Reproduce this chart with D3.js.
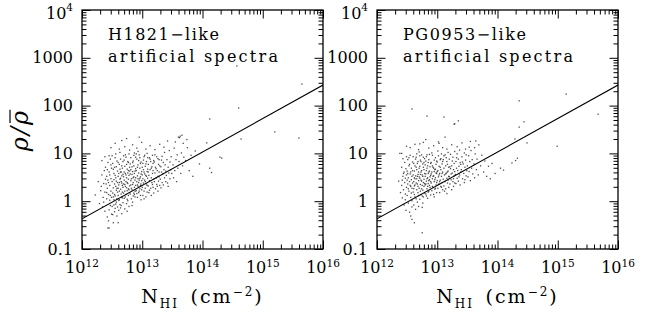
<!DOCTYPE html>
<html lang="en">
<head>
<meta charset="UTF-8" />
<title>Overdensity vs HI column density</title>
<style>
  body { margin: 0; background: #fff; }
  svg { display: block; font-family: "DejaVu Serif", serif; }
  .frame { fill: none; stroke: #000; stroke-width: 1.3px; }
  .tick line { stroke: #000; stroke-width: 1px; }
  .domain { display: none; }
  .fit { fill: none; stroke: #000; stroke-width: 1.1px; }
  .pt { fill: #000; fill-opacity: 0.7; }
</style>
</head>
<body>
<svg width="665" height="320"></svg>
<script src="https://d3js.org/d3.v7.min.js"></script>
<script>
// panel captions
const panelNames = ["H1821\u2212like", "PG0953\u2212like"];
const panelSub = "artificial spectra";

// axis ticks
const xMajor = [1e12, 1e13, 1e14, 1e15, 1e16];
const xTickExp = ["12", "13", "14", "15", "16"];
const yMajor = [0.1, 1, 10, 100, 1000, 1e4];
const yTickText = [["0.1", ""], ["1", ""], ["10", ""], ["100", ""], ["1000", ""], ["10", "4"]];

// fitted relation, [log10 N_HI, log10 rho/rhobar]
const fitLine = [[12, -0.37], [16, 2.43]];

// points, [log10 N_HI, log10 rho/rhobar]
const h1821 = [
[12.22,0.13],[12.27,0.41],[12.29,-0.05],
[12.31,0.22],[12.33,0.55],[12.34,-0.12],[12.35,0.08],[12.36,0.37],[12.37,0.64],[12.38,-0.21],[12.38,0.19],[12.39,0.46],[12.32,0.31],[12.36,-0.02],[12.39,0.71],
[12.41,0.05],[12.41,0.52],[12.42,-0.33],[12.42,0.27],[12.43,-0.56],[12.43,0.81],[12.44,0.14],[12.44,0.39],[12.45,-0.18],[12.45,0.61],[12.46,0.02],[12.46,0.33],[12.47,0.88],[12.47,-0.09],[12.48,0.21],[12.48,0.47],[12.49,-0.27],[12.49,0.69],[12.45,0.95],[12.43,0.44],[12.47,0.12],[12.41,0.18],[12.44,-0.41],[12.48,0.76],[12.46,0.55],[12.42,0.66],[12.49,0.08],[12.40,0.36],
[12.50,-0.11],[12.50,0.41],[12.51,0.17],[12.51,0.79],[12.52,-0.45],[12.52,0.28],[12.53,0.03],[12.53,0.58],[12.54,-0.22],[12.54,0.36],[12.55,0.91],[12.55,0.11],[12.56,-0.06],[12.56,0.49],[12.57,0.23],[12.57,0.72],[12.58,-0.31],[12.58,0.05],[12.59,0.39],[12.59,0.63],[12.50,0.95],[12.52,0.67],[12.54,0.14],[12.55,-0.15],[12.56,0.31],[12.57,-0.02],[12.58,0.84],[12.59,0.19],[12.51,-0.28],[12.53,0.45],[12.55,0.54],[12.57,0.42],[12.52,0.09],[12.58,0.27],[12.54,0.71],[12.56,0.99],[12.59,-0.12],[12.53,-0.08],
[12.60,0.12],[12.60,0.52],[12.61,-0.19],[12.61,0.34],[12.62,0.77],[12.62,0.03],[12.63,0.46],[12.63,-0.07],[12.64,0.25],[12.64,0.88],[12.65,0.15],[12.65,0.61],[12.66,-0.26],[12.66,0.38],[12.67,0.07],[12.67,0.69],[12.68,0.29],[12.68,-0.03],[12.69,0.51],[12.69,0.95],[12.60,0.81],[12.61,0.58],[12.62,0.21],[12.63,0.67],[12.64,-0.14],[12.65,0.41],[12.66,0.74],[12.67,0.19],[12.68,0.56],[12.69,0.17],[12.62,0.39],[12.64,0.48],[12.66,0.09],[12.68,0.83],[12.61,0.02],[12.63,1.02],[12.65,-0.09],[12.67,0.33],[12.69,0.36],[12.60,0.27],[12.64,0.61],[12.66,0.53],
[12.70,0.06],[12.70,0.44],[12.71,0.73],[12.71,-0.16],[12.72,0.31],[12.72,0.58],[12.73,0.14],[12.73,0.92],[12.74,-0.05],[12.74,0.49],[12.75,0.22],[12.75,0.67],[12.76,0.37],[12.76,0.01],[12.77,0.81],[12.77,0.26],[12.78,0.54],[12.78,-0.11],[12.79,0.18],[12.79,0.63],[12.70,0.86],[12.71,0.35],[12.72,0.09],[12.73,0.41],[12.74,0.77],[12.75,0.04],[12.76,0.59],[12.77,0.46],[12.78,0.99],[12.79,0.32],[12.71,0.21],[12.73,0.55],[12.75,0.39],[12.77,0.12],[12.79,0.71],[12.72,0.97],[12.74,0.28],[12.76,0.83],[12.78,0.24],[12.70,0.61],[12.75,-0.21],[12.77,0.64],
[12.80,0.15],[12.80,0.57],[12.81,0.34],[12.81,0.91],[12.82,0.05],[12.82,0.47],[12.83,0.72],[12.83,0.24],[12.84,-0.02],[12.84,0.62],[12.85,0.39],[12.85,0.84],[12.86,0.17],[12.86,0.51],[12.87,0.29],[12.87,1.01],[12.88,0.44],[12.88,0.09],[12.89,0.68],[12.89,0.33],[12.80,0.78],[12.82,0.27],[12.83,0.56],[12.85,0.11],[12.86,0.74],[12.87,0.58],[12.88,0.21],[12.89,0.92],[12.81,0.43],[12.84,0.35],[12.86,0.96],[12.88,0.63],[12.83,-0.09],[12.85,0.49],[12.87,0.14],[12.81,0.66],[12.84,0.81],[12.89,0.49],
[12.90,0.22],[12.90,0.64],[12.91,0.41],[12.91,0.88],[12.92,0.08],[12.92,0.53],[12.93,0.31],[12.93,0.76],[12.94,0.18],[12.94,0.59],[12.95,0.44],[12.95,0.97],[12.96,0.26],[12.96,0.69],[12.97,0.12],[12.97,0.51],[12.98,0.36],[12.98,0.82],[12.99,0.24],[12.99,0.62],[12.90,0.99],[12.91,0.16],[12.92,0.71],[12.93,0.47],[12.94,0.85],[12.95,0.21],[12.96,0.48],[12.97,0.79],[12.98,0.03],[12.99,0.43],[12.92,0.34],[12.94,0.39],[12.96,0.91],[12.98,0.57],[12.93,1.04],[12.97,0.33],
[13.00,0.29],[13.00,0.71],[13.01,0.47],[13.01,0.12],[13.02,0.86],[13.02,0.38],[13.03,0.61],[13.03,0.21],[13.04,0.96],[13.04,0.44],[13.05,0.27],[13.05,0.73],[13.06,0.54],[13.06,0.09],[13.07,0.83],[13.07,0.36],[13.08,0.62],[13.08,0.19],[13.09,0.48],[13.09,0.91],[13.00,0.55],[13.02,0.66],[13.03,0.93],[13.05,0.41],[13.06,0.78],[13.08,0.33],[13.09,0.67],[13.01,0.79],[13.04,0.57],[13.07,0.52],[13.03,0.05],[13.08,1.00],
[13.10,0.32],[13.10,0.77],[13.11,0.54],[13.11,0.18],[13.12,0.91],[13.12,0.43],[13.13,0.66],[13.14,0.27],[13.14,0.83],[13.15,0.49],[13.15,0.12],[13.16,0.72],[13.16,0.39],[13.17,0.58],[13.17,0.96],[13.18,0.29],[13.18,0.64],[13.19,0.46],[13.19,0.85],[13.10,0.61],[13.12,0.23],[13.13,0.88],[13.15,0.69],[13.17,0.35],[13.18,0.79],[13.19,0.17],
[13.20,0.41],[13.20,0.82],[13.21,0.59],[13.22,0.26],[13.22,0.71],[13.23,0.48],[13.24,0.93],[13.24,0.35],[13.25,0.64],[13.26,0.52],[13.26,0.21],[13.27,0.77],[13.27,0.42],[13.28,0.87],[13.28,0.61],[13.29,0.33],[13.29,0.74],[13.21,0.97],[13.23,0.68],[13.25,0.31],[13.26,0.89],[13.28,0.51],
[13.30,0.46],[13.31,0.72],[13.31,0.28],[13.32,0.61],[13.33,0.94],[13.33,0.39],[13.34,0.57],[13.35,0.81],[13.35,0.34],[13.36,0.66],[13.37,0.49],[13.37,1.02],[13.38,0.76],[13.39,0.41],[13.39,0.63],[13.32,0.86],
[13.40,0.54],[13.41,0.87],[13.42,0.38],[13.43,0.71],[13.44,0.59],[13.45,1.06],[13.46,0.47],[13.46,0.82],[13.47,0.66],[13.48,0.93],[13.49,0.58],[13.43,0.31],
[13.51,0.76],[13.52,0.49],[13.53,1.11],[13.54,0.64],[13.56,0.87],[13.57,0.41],[13.58,0.97],[13.59,0.69],[13.55,1.24],
[13.61,0.83],[13.62,1.33],[13.64,0.58],[13.65,1.01],[13.67,0.74],[13.68,1.21],[13.69,0.92],[13.66,1.38],[13.74,1.29],
[13.72,0.85],[13.75,1.12],[13.78,0.64],[13.81,0.96],[13.84,0.52],[13.88,1.05],[13.95,0.78],
[12.48,1.12],[12.55,1.21],[12.62,1.09],[12.66,1.27],[12.71,1.14],[12.79,1.07],[12.84,1.18],[12.91,1.11],[12.99,1.23],[13.06,1.09],[13.13,1.16],[13.21,1.08],[13.29,1.19],[13.36,1.13],[12.74,1.31],[12.95,1.34],[13.42,1.26],[12.38,0.93],[12.33,0.85],
[14.07,1.22],[14.12,0.69],[14.15,0.60],[14.32,0.90],[14.12,1.72],[14.60,1.95],[14.64,1.30],[15.20,1.45],[15.60,1.32],[15.65,2.45],[14.57,2.83],[13.63,1.36],[13.60,1.34],[14.29,0.92],[12.60,-0.45],[12.45,-0.56]
];

const pg0953 = [
[12.38,1.00],[12.36,0.42],[12.39,0.18],
[12.41,0.33],[12.41,0.71],[12.42,0.07],[12.43,0.52],[12.43,0.89],[12.44,0.24],[12.45,-0.08],[12.45,0.61],[12.46,0.39],[12.46,0.81],[12.47,0.15],[12.47,0.48],[12.48,-0.19],[12.48,0.68],[12.49,0.29],[12.49,0.93],[12.42,0.44],[12.44,0.58],[12.47,0.03],[12.49,0.55],
[12.50,0.12],[12.50,0.63],[12.51,0.36],[12.51,0.87],[12.52,-0.04],[12.52,0.49],[12.53,0.21],[12.53,0.74],[12.54,0.41],[12.54,-0.23],[12.55,0.57],[12.55,0.96],[12.56,0.08],[12.56,0.31],[12.57,0.69],[12.57,0.17],[12.58,0.52],[12.58,-0.12],[12.59,0.38],[12.59,0.82],[12.50,0.44],[12.52,0.26],[12.53,0.91],[12.55,0.33],[12.56,0.61],[12.57,0.45],[12.58,0.01],[12.59,0.64],[12.51,0.58],[12.54,0.77],[12.56,-0.31],[12.58,0.27],
[12.60,0.19],[12.60,0.55],[12.61,-0.08],[12.61,0.79],[12.62,0.32],[12.62,0.63],[12.63,0.09],[12.63,0.47],[12.64,0.88],[12.64,-0.17],[12.65,0.38],[12.65,0.71],[12.66,0.24],[12.66,0.99],[12.67,0.52],[12.67,-0.02],[12.68,0.31],[12.68,0.83],[12.69,0.12],[12.69,0.61],[12.60,0.93],[12.61,0.41],[12.62,0.14],[12.63,0.74],[12.64,0.53],[12.65,0.05],[12.66,0.66],[12.67,0.36],[12.68,0.56],[12.69,0.43],[12.61,0.26],[12.63,0.34],[12.65,0.92],[12.67,0.79],[12.69,-0.11],[12.62,0.49],[12.66,0.47],[12.68,0.18],
[12.70,0.27],[12.70,0.69],[12.71,0.04],[12.71,0.48],[12.72,0.86],[12.72,0.35],[12.73,0.14],[12.73,0.61],[12.74,0.97],[12.74,0.42],[12.75,-0.13],[12.75,0.55],[12.76,0.23],[12.76,0.78],[12.77,0.39],[12.77,0.09],[12.78,0.66],[12.78,0.31],[12.79,0.89],[12.79,0.17],[12.70,0.51],[12.71,0.73],[12.72,0.21],[12.73,0.44],[12.74,0.64],[12.75,0.33],[12.76,0.52],[12.77,0.92],[12.78,0.46],[12.79,0.58],[12.71,0.95],[12.73,0.83],[12.75,0.11],[12.77,0.71],[12.79,0.37],[12.72,0.56],[12.74,0.26],[12.76,-0.04],[12.78,0.81],[12.70,1.03],
[12.80,0.34],[12.80,0.76],[12.81,0.15],[12.81,0.57],[12.82,0.93],[12.82,0.42],[12.83,0.26],[12.83,0.69],[12.84,0.49],[12.84,0.06],[12.85,0.81],[12.85,0.37],[12.86,0.61],[12.86,0.21],[12.87,0.98],[12.87,0.45],[12.88,0.72],[12.88,0.29],[12.89,0.54],[12.89,0.13],[12.80,0.52],[12.81,0.84],[12.82,0.11],[12.83,0.47],[12.84,0.74],[12.85,0.58],[12.86,0.87],[12.87,0.33],[12.88,0.51],[12.89,0.79],[12.81,0.36],[12.83,0.97],[12.85,0.19],[12.87,0.63],[12.89,0.41],[12.82,0.64],[12.84,0.31],[12.86,0.43],
[12.90,0.38],[12.90,0.81],[12.91,0.22],[12.91,0.61],[12.92,0.47],[12.92,0.96],[12.93,0.29],[12.93,0.71],[12.94,0.53],[12.94,0.14],[12.95,0.86],[12.95,0.41],[12.96,0.66],[12.96,0.25],[12.97,0.91],[12.97,0.49],[12.98,0.34],[12.98,0.77],[12.99,0.58],[12.99,0.18],[12.90,0.57],[12.91,1.01],[12.92,0.31],[12.93,0.52],[12.94,0.69],[12.95,0.62],[12.96,0.45],[12.97,0.27],[12.98,0.59],[12.99,0.84],[12.92,0.74],[12.95,0.09],[12.97,0.67],[12.99,0.39],
[13.00,0.43],[13.00,0.82],[13.01,0.27],[13.01,0.64],[13.02,0.51],[13.02,0.95],[13.03,0.36],[13.03,0.73],[13.04,0.18],[13.04,0.58],[13.05,0.87],[13.05,0.44],[13.06,0.66],[13.06,0.31],[13.07,0.99],[13.07,0.52],[13.08,0.39],[13.08,0.78],[13.09,0.61],[13.09,0.24],[13.00,0.62],[13.02,0.35],[13.03,0.55],[13.05,0.71],[13.06,0.89],[13.07,0.29],[13.08,0.58],[13.09,0.83],[13.01,1.05],[13.04,0.41],
[13.10,0.46],[13.10,0.87],[13.11,0.32],[13.11,0.69],[13.12,0.55],[13.13,0.97],[13.13,0.41],[13.14,0.74],[13.14,0.26],[13.15,0.59],[13.15,0.91],[13.16,0.48],[13.16,0.16],[13.17,0.77],[13.17,0.38],[13.18,0.63],[13.18,1.02],[13.19,0.52],[13.19,0.29],[13.11,0.95],[13.12,0.21],[13.14,0.57],[13.16,0.83],[13.17,0.61],[13.18,0.44],[13.19,0.71],
[13.20,0.51],[13.20,0.88],[13.21,0.36],[13.22,0.68],[13.22,0.98],[13.23,0.45],[13.24,0.74],[13.24,0.24],[13.25,0.59],[13.26,0.92],[13.26,0.41],[13.27,0.66],[13.27,0.31],[13.28,0.79],[13.28,0.53],[13.29,1.04],[13.29,0.62],[13.21,0.72],[13.23,0.57],[13.25,0.84],[13.27,0.47],[13.29,0.38],
[13.30,0.56],[13.31,0.83],[13.31,0.37],[13.32,0.69],[13.33,0.99],[13.33,0.48],[13.34,0.64],[13.35,0.88],[13.35,0.42],[13.36,0.73],[13.37,0.55],[13.37,1.07],[13.38,0.81],[13.38,0.34],[13.39,0.61],[13.32,0.91],[13.36,0.51],[13.39,0.77],
[13.40,0.66],[13.41,0.93],[13.42,0.47],[13.43,0.78],[13.44,0.58],[13.45,1.01],[13.45,0.39],[13.46,0.71],[13.47,0.86],[13.48,0.53],[13.48,0.97],[13.49,0.64],[13.42,0.82],[13.46,0.45],
[13.50,0.74],[13.51,0.51],[13.52,0.95],[13.53,0.62],[13.54,0.83],[13.55,0.43],[13.56,1.06],[13.57,0.69],[13.58,0.87],[13.59,0.57],[13.53,1.13],
[13.61,0.78],[13.62,0.49],[13.63,0.99],[13.65,0.66],[13.66,0.88],[13.68,0.55],[13.69,1.18],[13.64,1.26],
[13.72,0.74],[13.74,0.96],[13.77,0.61],[13.79,0.84],[13.82,0.52],[13.85,0.73],[13.88,0.47],[13.91,0.79],[13.96,0.58],[14.05,0.69],
[12.55,1.12],[12.63,1.19],[12.69,1.08],[12.77,1.23],[12.86,1.11],[12.94,1.16],[13.03,1.21],[13.09,1.12],[13.16,1.09],[13.24,1.18],[13.33,1.14],[13.41,1.22],[13.47,1.09],[12.49,1.15],[12.81,1.29],[13.55,1.25],[13.62,1.12],
[12.41,1.00],[12.58,1.93],[12.71,1.20],[12.83,1.78],[13.02,1.24],[13.11,1.76],[13.13,1.34],[13.28,1.61],[13.29,1.62],[13.35,1.68],[14.36,2.10],[14.36,1.55],[14.44,1.66],[14.49,1.22],[14.29,1.30],[14.24,0.80],[14.30,0.85],[14.10,0.65],[14.33,0.90],[14.99,1.15],[15.14,2.24],[15.67,1.82],[12.75,-0.66],[12.62,-0.45],[12.58,-0.38]
];

const panels = [
  { name: panelNames[0], points: h1821, x0: 82, x1: 323, capLen: 111 },
  { name: panelNames[1], points: pg0953, x0: 377, x1: 618, capLen: 123 }
];
const yTop = 10, yBottom = 249;

const svg = d3.select("svg");

panels.forEach((p, pi) => {
  const x = d3.scaleLog().domain([1e12, 1e16]).range([p.x0, p.x1]);
  const y = d3.scaleLog().domain([0.1, 1e4]).range([yBottom, yTop]);
  const xMinor = x.ticks().filter((v) => !xMajor.some((m) => Math.abs(v / m - 1) < 1e-6));
  const yMinor = y.ticks().filter((v) => !yMajor.some((m) => Math.abs(v / m - 1) < 1e-6));

  const g = svg.append("g");

  const clipId = "clip" + pi;
  g.append("clipPath").attr("id", clipId)
    .append("rect")
    .attr("x", p.x0).attr("y", yTop)
    .attr("width", p.x1 - p.x0).attr("height", yBottom - yTop);

  // scatter
  g.append("g")
    .attr("clip-path", `url(#${clipId})`)
    .selectAll("rect")
    .data(p.points)
    .join("rect")
    .attr("class", "pt")
    .attr("x", (d) => x(Math.pow(10, d[0])) - 0.65)
    .attr("y", (d) => y(Math.pow(10, d[1])) - 0.65)
    .attr("width", 1.3)
    .attr("height", 1.3);

  // fitted line
  g.append("path")
    .attr("class", "fit")
    .attr("clip-path", `url(#${clipId})`)
    .attr("d", d3.line()
      .x((d) => x(Math.pow(10, d[0])))
      .y((d) => y(Math.pow(10, d[1])))(fitLine));

  // ticks, all pointing inward
  const addAxis = (axisFn, scale, vals, len, transform) => {
    g.append("g")
      .attr("transform", transform)
      .call(axisFn(scale).tickValues(vals).tickSize(-len).tickFormat(""));
  };
  [[xMajor, 8.5], [xMinor, 4.5]].forEach(([vals, len]) => {
    addAxis(d3.axisBottom, x, vals, len, `translate(0,${yBottom})`);
    addAxis(d3.axisTop, x, vals, len, `translate(0,${yTop})`);
  });
  [[yMajor, 8.5], [yMinor, 4.5]].forEach(([vals, len]) => {
    addAxis(d3.axisLeft, y, vals, len, `translate(${p.x0},0)`);
    addAxis(d3.axisRight, y, vals, len, `translate(${p.x1},0)`);
  });

  g.append("rect")
    .attr("class", "frame")
    .attr("x", p.x0).attr("y", yTop)
    .attr("width", p.x1 - p.x0).attr("height", yBottom - yTop);

  // x tick labels
  xMajor.forEach((v, i) => {
    const t = g.append("text")
      .attr("x", x(v))
      .attr("y", 273)
      .attr("text-anchor", "middle")
      .attr("font-size", 16);
    t.append("tspan").text("10");
    t.append("tspan").attr("font-size", 10.5).attr("dy", -6).text(xTickExp[i]);
  });

  // y tick labels
  yMajor.forEach((v, i) => {
    const [base, ex] = yTickText[i];
    const t = g.append("text")
      .attr("x", p.x0 - 9)
      .attr("y", y(v) + (ex ? 9 : 5.5))
      .attr("text-anchor", "end")
      .attr("font-size", 16);
    t.append("tspan").text(base);
    if (ex) t.append("tspan").attr("font-size", 10.5).attr("dy", -8).text(ex);
  });

  // caption
  g.append("text")
    .attr("x", p.x0 + 26).attr("y", 40)
    .attr("font-size", 16)
    .attr("textLength", p.capLen).attr("lengthAdjust", "spacing")
    .text(p.name);
  g.append("text")
    .attr("x", p.x0 + 26).attr("y", 62)
    .attr("font-size", 16)
    .attr("textLength", 170).attr("lengthAdjust", "spacing")
    .text(panelSub);

  // x axis title
  const xt = g.append("text")
    .attr("x", (p.x0 + p.x1) / 2)
    .attr("y", 303)
    .attr("text-anchor", "middle")
    .attr("font-size", 19)
    .attr("letter-spacing", 2);
  xt.append("tspan").text("N");
  xt.append("tspan").attr("font-size", 12).attr("dy", 5).text("HI");
  xt.append("tspan").attr("dy", -5).text("\u2002(cm");
  xt.append("tspan").attr("font-size", 12).attr("dy", -7).text("\u22122");
  xt.append("tspan").attr("dy", 7).text(")");
});

// y axis title: rho / rho-bar
const yl = svg.append("g").attr("transform", "translate(28,130) rotate(-90)");
const ylt = yl.append("text")
  .attr("text-anchor", "middle")
  .attr("font-size", 24)
  .attr("font-style", "italic")
  .attr("letter-spacing", 2)
  .text("\u03c1/\u03c1");
const last = ylt.node().getExtentOfChar(2);
yl.append("line")
  .attr("x1", last.x + 2).attr("x2", last.x + last.width - 1)
  .attr("y1", last.y + 4).attr("y2", last.y + 4)
  .attr("stroke", "#000").attr("stroke-width", 1.2);
</script>
</body>
</html>
